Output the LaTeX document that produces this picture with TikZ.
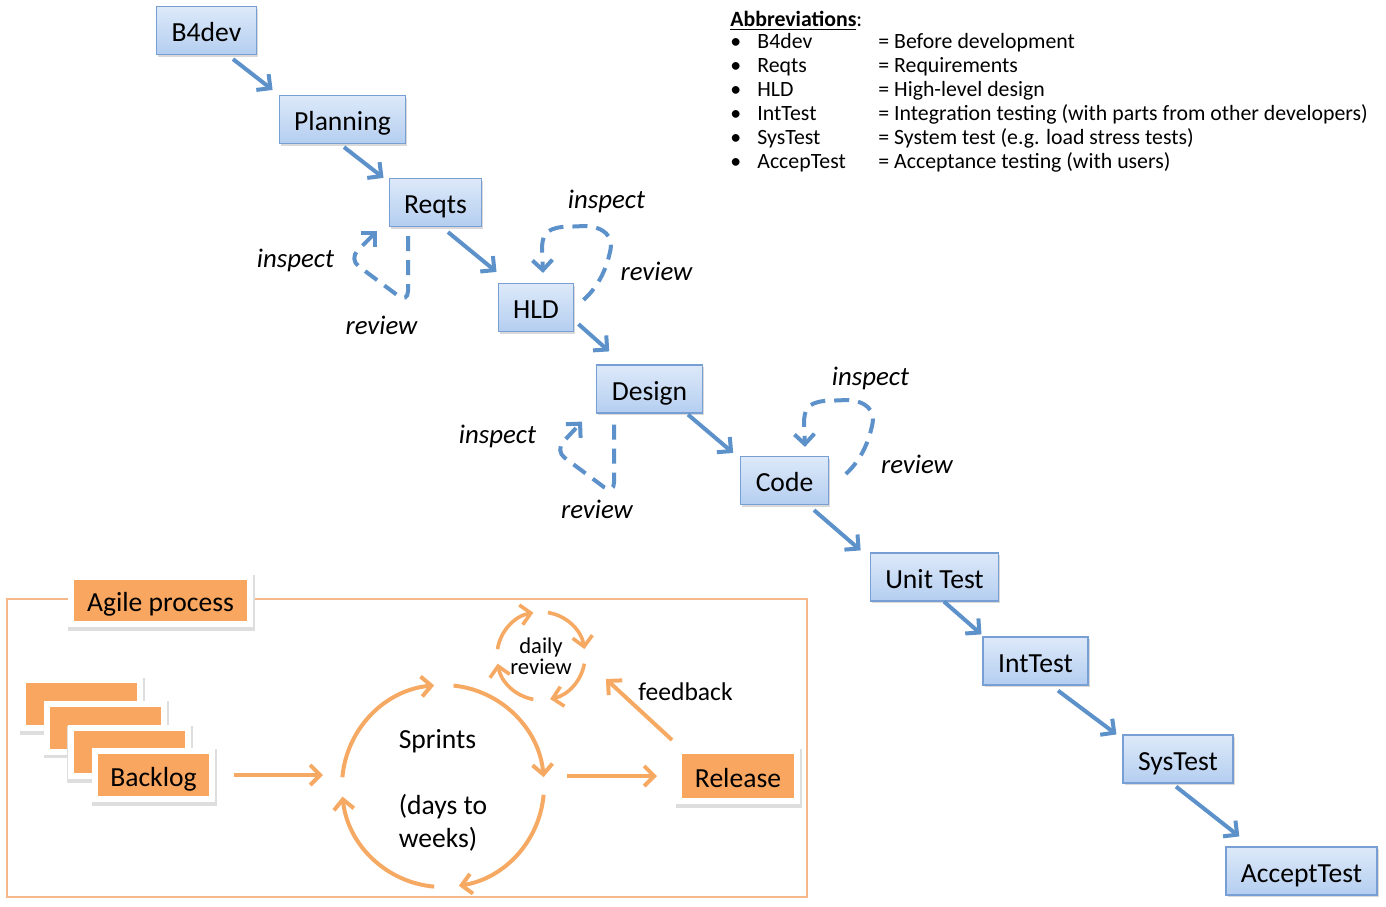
\documentclass[tikz,border=0pt]{standalone}
\usepackage{fontspec}
\setmainfont{Carlito}
\usetikzlibrary{arrows.meta,shadows}

\definecolor{stagetop}{HTML}{DDE9F9}
\definecolor{stagebot}{HTML}{B4CEF0}
\definecolor{stageline}{HTML}{789FD3}
\definecolor{flowblue}{HTML}{5D91CA}
\definecolor{agileorange}{HTML}{F8A660}
\definecolor{ringorange}{HTML}{F6A962}
\definecolor{frameorange}{HTML}{F5B88A}

\tikzset{
  stage/.style={draw=stageline, line width=0.6pt, top color=stagetop, bottom color=stagebot,
    minimum height=24pt, inner xsep=7.5pt, text height=11pt, text depth=0pt,
    font=\fontsize{13.8}{16}\selectfont,
    drop shadow={shadow xshift=0.8pt, shadow yshift=-1.2pt, opacity=0.3}},
  flow/.style={draw=flowblue, line width=2pt, -{Straight Barb[length=5pt,width=10pt]}},
  review loop/.style={flow, dash pattern=on 7.5pt off 4.5pt},
  note/.style={font=\fontsize{13.4}{16}\selectfont\itshape, inner sep=0pt},
  card/.style={fill=agileorange, draw=white, line width=3pt, minimum width=58.5pt, minimum height=24pt,
    text height=11pt, text depth=0pt, font=\fontsize{13.8}{16}\selectfont,
    preaction={fill=black!13, draw=black!13, line width=4.4pt, transform canvas={xshift=0.5pt, yshift=-1.1pt}}},
  ringarc/.style={draw=ringorange, line width=2pt, -{Straight Barb[length=5pt,width=10pt]}},
  orangeflow/.style={draw=ringorange, line width=2pt, -{Straight Barb[length=5pt,width=10pt]}},
  frame/.style={draw=frameorange, line width=0.8pt},
}

\begin{document}
\begin{tikzpicture}[x=0.5pt, y=0.5pt]
	\useasboundingbox (0,0) rectangle (1386,-906);
	% waterfall stages
	\node[stage] (b4dev) at (206.5,-30.5) {B4dev};
	\node[stage] (planning) at (342.5,-119.5) {Planning};
	\node[stage] (reqts) at (435.5,-202.5) {Reqts};
	\node[stage] (hld) at (536,-307.5) {HLD};
	\node[stage] (design) at (649.5,-389) {Design};
	\node[stage] (code) at (784.5,-480.5) {Code};
	\node[stage] (unittest) at (934.5,-577) {Unit Test};
	\node[stage] (inttest) at (1035.5,-661) {IntTest};
	\node[stage] (systest) at (1178,-759) {SysTest};
	\node[stage] (accepttest) at (1301.5,-871) {AcceptTest};
	\draw[flow] ([shift={(26.5,-4)}]b4dev.south) -- ([shift={(-6,5)}]planning.north west);
	\draw[flow] ([shift={(1.5,-3)}]planning.south) -- ([shift={(-5,0)}]reqts.north west);
	\draw[flow] ([shift={(12.5,-5)}]reqts.south) -- ([shift={(-1,11)}]hld.north west);
	\draw[flow] ([shift={(4,8)}]hld.south east) -- ([shift={(13,13)}]design.north west);
	\draw[flow] ([shift={(38.5,-1)}]design.south) -- ([shift={(-7,3)}]code.north west);
	\draw[flow] ([shift={(29.5,-5)}]code.south) -- ([shift={(-9,2)}]unittest.north west);
	\draw[flow] ([shift={(9.5,0)}]unittest.south) -- ([shift={(-1,2)}]inttest.north west);
	\draw[flow] ([shift={(22.5,-5)}]inttest.south) -- ([shift={(-6,0)}]systest.north west);
	\draw[flow] ([shift={(-2,-3)}]systest.south) -- ([shift={(14,10)}]accepttest.north west);
	% inspect / review loops
	\draw[review loop, rounded corners=6pt] ([shift={(-27.5,-9)}]reqts.south) -- ++(0,-67) -- ++(-59,44) -- ([shift={(-58.5,-4)}]reqts.south);
	\draw[review loop, rounded corners=6pt] ([shift={(-35.5,-11)}]design.south) -- ++(0,-70) -- ++(-59,44) -- ([shift={(-67.5,-8)}]design.south);
	\draw[review loop] ([shift={(9,-17)}]hld.north east) .. controls (598,-287) and (606,-270) .. (610,-252)
		.. controls (614,-236) and (604,-227) .. (585,-226) -- (562,-227)
		.. controls (545,-229) and (542,-236) .. (542,-250) -- ([shift={(7,10)}]hld.north);
	\draw[review loop] ([shift={(17,-18)}]code.north east) .. controls (860,-461) and (868,-444) .. (872,-426)
		.. controls (876,-410) and (866,-401) .. (847,-400) -- (824,-401)
		.. controls (807,-403) and (804,-410) .. (804,-424) -- ([shift={(20.5,9)}]code.north);
	\node[note] (reqtsinspect) at (295.5,-260) {inspect};
	\node[note] (reqtsreview) at (381.5,-325) {review};
	\node[note] (hldinspect) at (606.5,-201) {inspect};
	\node[note] (hldreview) at (656.5,-271) {review};
	\node[note] (designinspect) at (497.5,-436) {inspect};
	\node[note] (designreview) at (597,-509) {review};
	\node[note] (codeinspect) at (870.5,-378) {inspect};
	\node[note] (codereview) at (917,-464) {review};
	% abbreviations
	\node[anchor=north west, inner sep=0pt, font=\fontsize{10.9}{12}\selectfont] (abbrev) at (730,-9) {%
		\begin{tabular}{@{}p{13.5pt}@{}p{60.5pt}@{}l@{}}
		\multicolumn{3}{@{}l@{}}{\textbf{\underline{Abbreviations}}:}\\[-1pt]
		\textbullet & B4dev & = Before development\\
		\textbullet & Reqts & = Requirements\\
		\textbullet & HLD & = High-level design\\
		\textbullet & IntTest & = Integration testing (with parts from other developers)\\
		\textbullet & SysTest & = System test (e.g. load stress tests)\\
		\textbullet & AccepTest & = Acceptance testing (with users)
		\end{tabular}};
	% agile process
	\draw[frame] (7,-599) rectangle (807,-897);
	\node[card, minimum width=89.5pt, minimum height=23.5pt] (agile) at (160.5,-600.5) {Agile process};
	\node[card] (backlogA) at (81.5,-704) {};
	\node[card] (backlogB) at (105.5,-727.5) {};
	\node[card] (backlogC) at (129,-752) {};
	\node[card] (backlog) at (153.5,-775) {Backlog};
	\node[card, minimum width=59pt, minimum height=25pt] (release) at (738,-776) {Release};
	\node[circle, inner sep=0pt, outer sep=0pt, minimum size=101pt] (sprints) at (443,-786) {};
	\node[align=left, inner sep=0pt, font=\fontsize{13.8}{16.5}\selectfont] (sprintstext) at (443,-790) {Sprints\\\mbox{}\\(days to\\weeks)};
	\node[circle, inner sep=0pt, outer sep=0pt, minimum size=44pt, align=center,
		font=\fontsize{11.3}{9.5}\selectfont] (daily) at (541,-656) {daily\\review};
	\node[inner sep=0pt, font=\fontsize{12.8}{15}\selectfont] (feedbacklabel) at (685.5,-692) {feedback};
	\draw[ringarc] (sprints.175) arc[start angle=175, end angle=95, radius=50.5pt];
	\draw[ringarc] (sprints.84) arc[start angle=84, end angle=5, radius=50.5pt];
	\draw[ringarc] (sprints.355) arc[start angle=355, end angle=279, radius=50.5pt];
	\draw[ringarc] (sprints.265) arc[start angle=265, end angle=186, radius=50.5pt];
	\draw[ringarc, line width=1.8pt] (daily.171) arc[start angle=171, end angle=100, radius=22pt];
	\draw[ringarc, line width=1.8pt] (daily.81) arc[start angle=81, end angle=9, radius=22pt];
	\draw[ringarc, line width=1.8pt] (daily.350) arc[start angle=350, end angle=282, radius=22pt];
	\draw[ringarc, line width=1.8pt] (daily.260) arc[start angle=260, end angle=190, radius=22pt];
	\draw[orangeflow, shorten <=9.5pt, shorten >=9.5pt] (backlog.east) -- (backlog.east -| sprints.west);
	\draw[orangeflow, shorten <=11.5pt, shorten >=9.5pt] (sprints.east |- release.west) -- (release.west);
	\draw[orangeflow] ([shift={(-4,8)}]release.north west) -- ([shift={(21,-23)}]daily.east);
\end{tikzpicture}
\end{document}
